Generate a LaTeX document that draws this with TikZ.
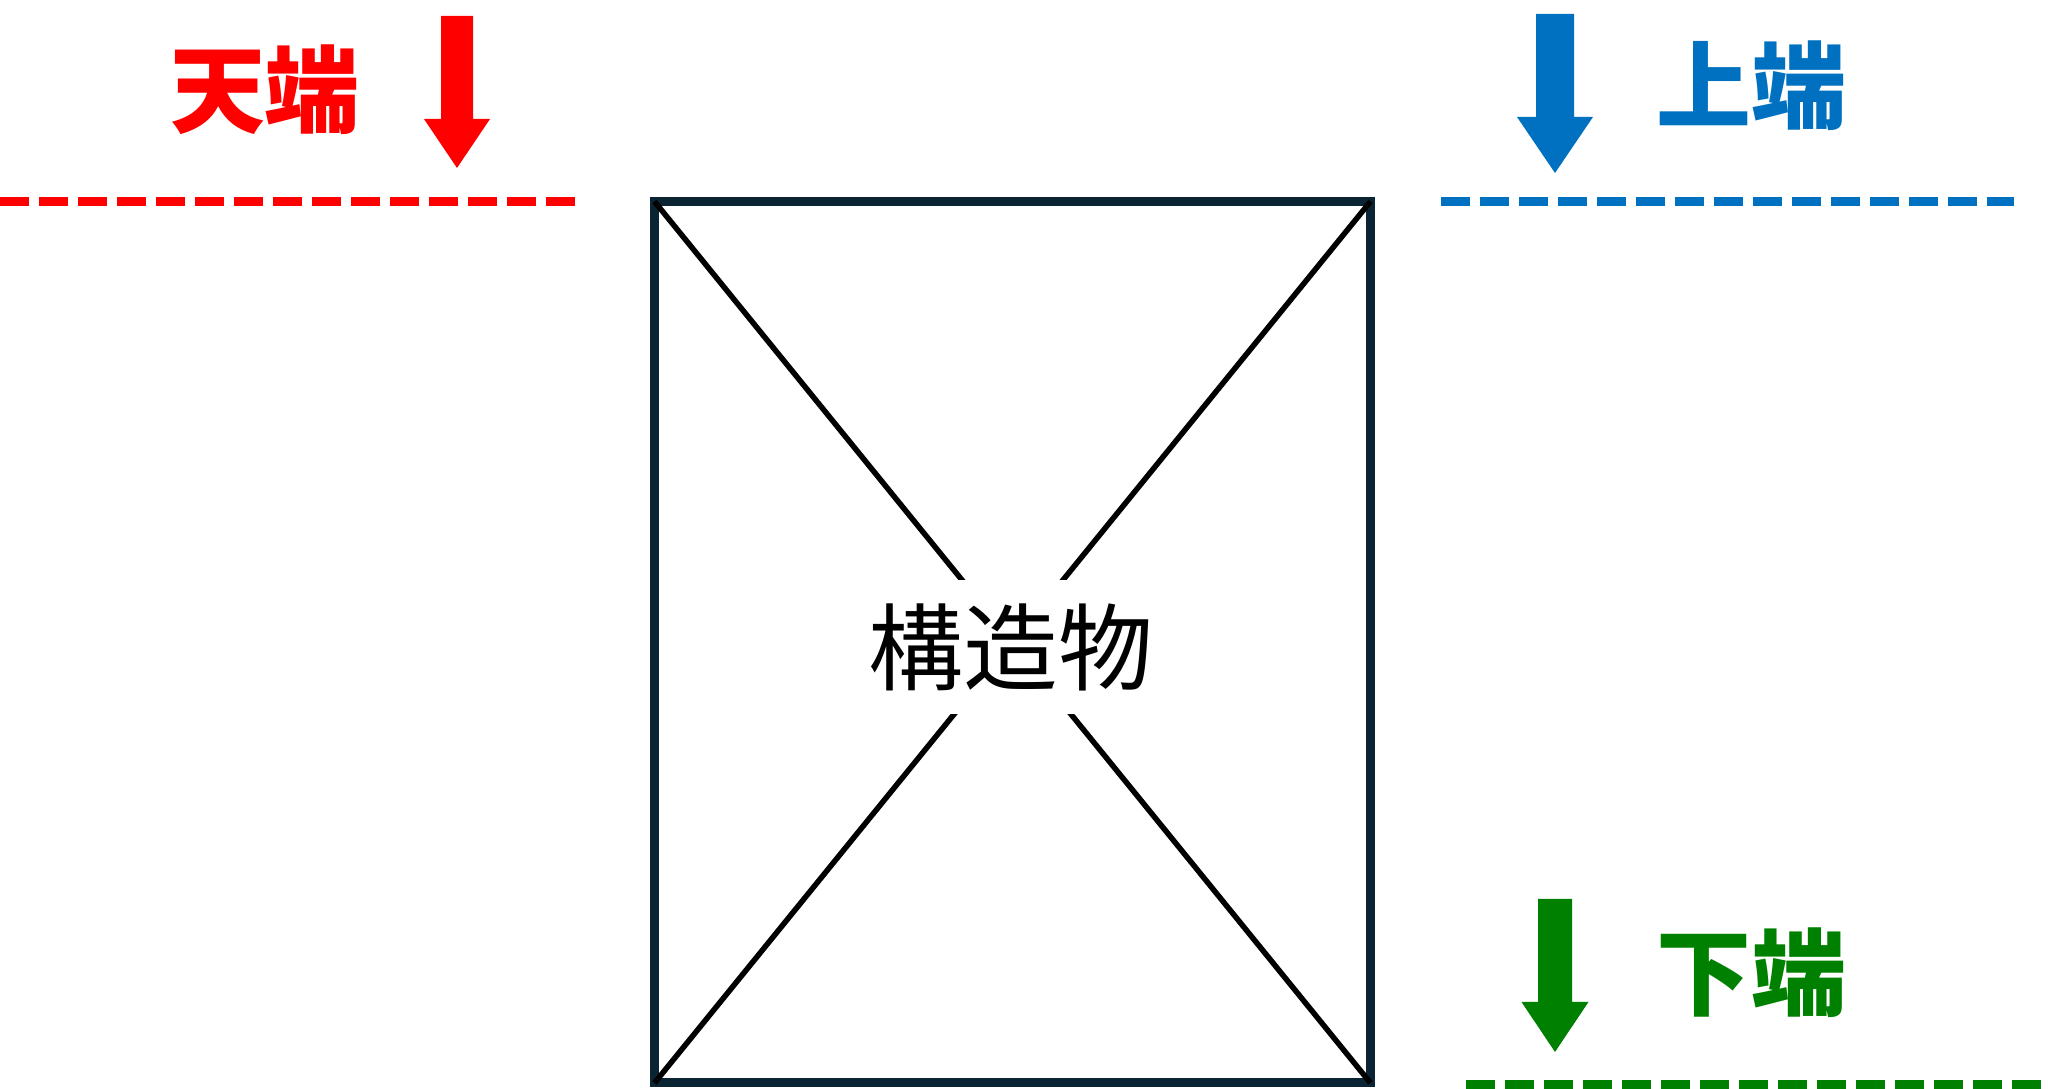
\documentclass[tikz,border=0pt]{standalone}
\usepackage{fontspec}
\usetikzlibrary{math}
\newfontfamily\cjk{Noto Sans CJK JP}
\definecolor{tanred}{RGB}{255,0,0}
\definecolor{jobublue}{RGB}{0,112,192}
\definecolor{kabugreen}{RGB}{0,128,0}
\definecolor{kozonavy}{RGB}{11,36,51}
\newcommand{\dnarrow}[7]{\fill[#1] (#2,#3) -- (#2-#6,#4) -- (#2-#7,#4) -- (#2-#7,#5) -- (#2+#7,#5) -- (#2+#7,#4) -- (#2+#6,#4) -- cycle;}
\tikzset{endline/.style={line width=0.09cm, dash pattern=on 0.29cm off 0.10cm},
	endlabel/.style={font=\cjk\bfseries\fontsize{27}{27}\selectfont, inner sep=0pt}}

\begin{document}
\begin{tikzpicture}[x=1cm,y=1cm]
	\tikzmath{\boxL=6.545; \boxR=13.705; \boxB=0.06; \boxT=8.875;
	\lineY=8.875; \lowY=0.04;}
	\useasboundingbox (0,0) rectangle (20.48,10.89);
	\draw[endline, tanred] (0,\lineY) -- (5.75,\lineY);
	\draw[endline, jobublue] (14.41,\lineY) -- (20.14,\lineY);
	\draw[endline, kabugreen, line width=0.10cm] (14.66,\lowY) -- (20.41,\lowY);
	\dnarrow{tanred}{4.57}{9.21}{9.70}{10.73}{0.33}{0.16}
	\dnarrow{jobublue}{15.55}{9.16}{9.72}{10.75}{0.38}{0.19}
	\dnarrow{kabugreen}{15.55}{0.37}{0.87}{1.90}{0.335}{0.17}
	\node[endlabel, tanred] (tenlbl) at (2.65,9.99) {天端};
	\node[endlabel, jobublue] (jolbl) at (17.515,10.03) {上端};
	\node[endlabel, kabugreen] (kalbl) at (17.51,1.165) {下端};

	\coordinate (boxNW) at (\boxL,\boxT);
	\coordinate (boxNE) at (\boxR,\boxT);
	\coordinate (boxSW) at (\boxL,\boxB);
	\coordinate (boxSE) at (\boxR,\boxB);
	\draw[kozonavy, line width=0.09cm] (boxNW) rectangle (boxSE);
	\draw[black, line width=0.055cm] (boxNW) -- (boxSE);
	\draw[black, line width=0.055cm] (boxNE) -- (boxSW);
	\node[fill=white, inner xsep=0.2cm, inner ysep=0.23cm, font=\cjk\fontsize{27}{27}\selectfont] (kozo) at (10.11,4.42) {構造物};
\end{tikzpicture}
\end{document}
